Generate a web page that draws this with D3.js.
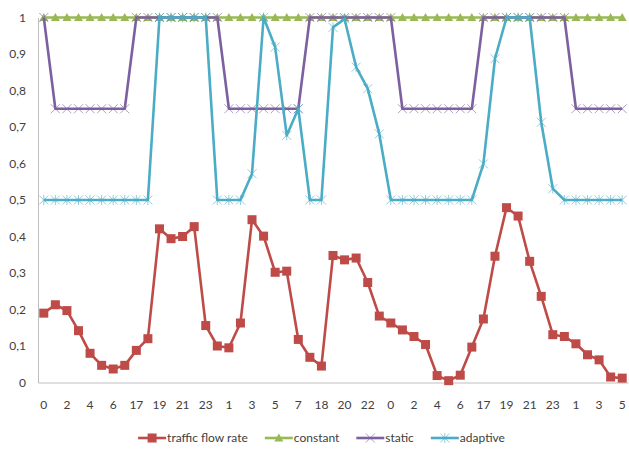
<!DOCTYPE html>
<html>
<head>
<meta charset="utf-8">
<script src="https://cdn.jsdelivr.net/npm/d3@7"></script>
<style>
    body { margin: 0; background: #fff; }
    svg { display: block; }
    text { font-family: Lato, "Open Sans", sans-serif; fill: #404040; }
</style>
</head>
<body>
<svg id="chart" width="629" height="450"></svg>
<script>
// hour labels on the category axis (only every other one is shown)
const HOURS = [0, 1, 2, 3, 4, 5, 6, 7, 17, 18, 19, 20, 21, 22, 23,
    0, 1, 2, 3, 4, 5, 6, 7, 17, 18, 19, 20, 21, 22, 23,
    0, 1, 2, 3, 4, 5, 6, 7, 17, 18, 19, 20, 21, 22, 23,
    0, 1, 2, 3, 4, 5];

const TRAFFIC = [0.190, 0.213, 0.197, 0.142, 0.080, 0.047, 0.037, 0.047, 0.088, 0.120,
    0.421, 0.394, 0.400, 0.427, 0.156, 0.100, 0.095, 0.163, 0.446, 0.401,
    0.302, 0.305, 0.118, 0.069, 0.045, 0.348, 0.336, 0.341, 0.274, 0.182,
    0.163, 0.144, 0.126, 0.104, 0.019, 0.005, 0.020, 0.097, 0.174, 0.346,
    0.479, 0.456, 0.332, 0.236, 0.131, 0.126, 0.106, 0.076, 0.062, 0.015, 0.012];

const CONSTANT = HOURS.map(() => 1);

const STATIC = [1, 0.75, 0.75, 0.75, 0.75, 0.75, 0.75, 0.75, 1, 1,
    1, 1, 1, 1, 1, 1, 0.75, 0.75, 0.75, 0.75,
    0.75, 0.75, 0.75, 1, 1, 1, 1, 1, 1, 1,
    1, 0.75, 0.75, 0.75, 0.75, 0.75, 0.75, 0.75, 1, 1,
    1, 1, 1, 1, 1, 1, 0.75, 0.75, 0.75, 0.75, 0.75];

const ADAPTIVE = [0.5, 0.5, 0.5, 0.5, 0.5, 0.5, 0.5, 0.5, 0.5, 0.5,
    1, 1, 1, 1, 1, 0.5, 0.5, 0.5, 0.572, 1,
    0.919, 0.677, 0.750, 0.5, 0.5, 0.973, 0.996, 0.864, 0.805, 0.681,
    0.5, 0.5, 0.5, 0.5, 0.5, 0.5, 0.5, 0.5, 0.599, 0.887,
    1, 1, 1, 0.713, 0.531, 0.5, 0.5, 0.5, 0.5, 0.5, 0.5];

const SERIES = [
    {name: 'traffic flow rate', values: TRAFFIC, color: '#BE4B48', marker: 'square'},
    {name: 'constant', values: CONSTANT, color: '#98B954', marker: 'triangle'},
    {name: 'static', values: STATIC, color: '#7D60A0', marker: 'x'},
    {name: 'adaptive', values: ADAPTIVE, color: '#4BACC6', marker: 'star'}
];

const Y_TICKS = d3.range(0, 1.01, 0.1);

const svg = d3.select('#chart');
const margin = {top: 17.5, right: 1, bottom: 67.5, left: 38};
const width = 629 - margin.left - margin.right;
const height = 450 - margin.top - margin.bottom;

const x = d3.scaleBand()
    .domain(d3.range(HOURS.length))
    .range([margin.left, margin.left + width]);
const cx = i => x(i) + x.bandwidth() / 2;

const y = d3.scaleLinear()
    .domain([0, 1])
    .range([margin.top + height, margin.top]);

const comma = d3.formatLocale({decimal: ',', thousands: '.', grouping: [3], currency: ['', '']});
const fmt = v => v === 0 || v === 1 ? String(v) : comma.format('.1f')(v);

// axes
const yAxis = svg.append('g')
    .attr('transform', `translate(${margin.left},0)`)
    .call(d3.axisLeft(y).tickValues(Y_TICKS).tickFormat(fmt).tickSize(0).tickPadding(12));
yAxis.select('.domain').attr('stroke', '#BFBFBF');
yAxis.selectAll('text').attr('font-size', 12).attr('fill', '#404040');

const xAxis = svg.append('g')
    .attr('transform', `translate(0,${margin.top + height})`)
    .call(d3.axisBottom(x).tickValues(d3.range(0, HOURS.length, 2))
        .tickFormat(i => HOURS[i]).tickSize(0).tickPadding(18));
xAxis.select('.domain').attr('stroke', '#BFBFBF');
xAxis.selectAll('text').attr('font-size', 12).attr('fill', '#404040');

// marker shapes
function marker(g, type, color) {
    if (type == 'square') {
        g.append('rect').attr('x', -4.5).attr('y', -4.5).attr('width', 9).attr('height', 9)
            .attr('fill', color);
    } else if (type == 'triangle') {
        g.append('path').attr('d', 'M0,-4.5L4.5,3.5L-4.5,3.5Z').attr('fill', color);
    } else if (type == 'x') {
        g.append('path').attr('d', 'M-4.5,-4.5L4.5,4.5M-4.5,4.5L4.5,-4.5')
            .attr('stroke', color).attr('stroke-width', 1).attr('opacity', 0.6);
    } else {
        g.append('path').attr('d', 'M-4.5,-4.5L4.5,4.5M-4.5,4.5L4.5,-4.5M0,-5L0,5')
            .attr('stroke', color).attr('stroke-width', 1).attr('opacity', 0.6);
    }
}

const line = d3.line()
    .x((d, i) => cx(i))
    .y(d => y(d));

SERIES.forEach(s => {
    const g = svg.append('g');
    g.append('path')
        .datum(s.values)
        .attr('d', line)
        .attr('fill', 'none')
        .attr('stroke', s.color)
        .attr('stroke-width', 2.6)
        .attr('stroke-linejoin', 'round');
    g.selectAll('g.m')
        .data(s.values)
        .join('g')
        .attr('class', 'm')
        .attr('transform', (d, i) => `translate(${cx(i)},${y(d)})`)
        .each(function() { marker(d3.select(this), s.marker, s.color); });
});

// legend, laid out left to right and centred
const legend = svg.append('g').attr('transform', 'translate(0,438)');
let lx = 0;
SERIES.forEach(s => {
    const item = legend.append('g').attr('transform', `translate(${lx},0)`);
    item.append('line').attr('x1', 0).attr('x2', 28)
        .attr('stroke', s.color).attr('stroke-width', 2.6);
    marker(item.append('g').attr('transform', 'translate(14,0)'), s.marker, s.color);
    const t = item.append('text').attr('x', 29).attr('dy', '0.35em')
        .attr('font-size', 12).text(s.name);
    lx += 29 + t.node().getComputedTextLength() + 17;
});
lx -= 17;
legend.attr('transform', `translate(${(139 + 504 - lx) / 2},438)`);
</script>
</body>
</html>
